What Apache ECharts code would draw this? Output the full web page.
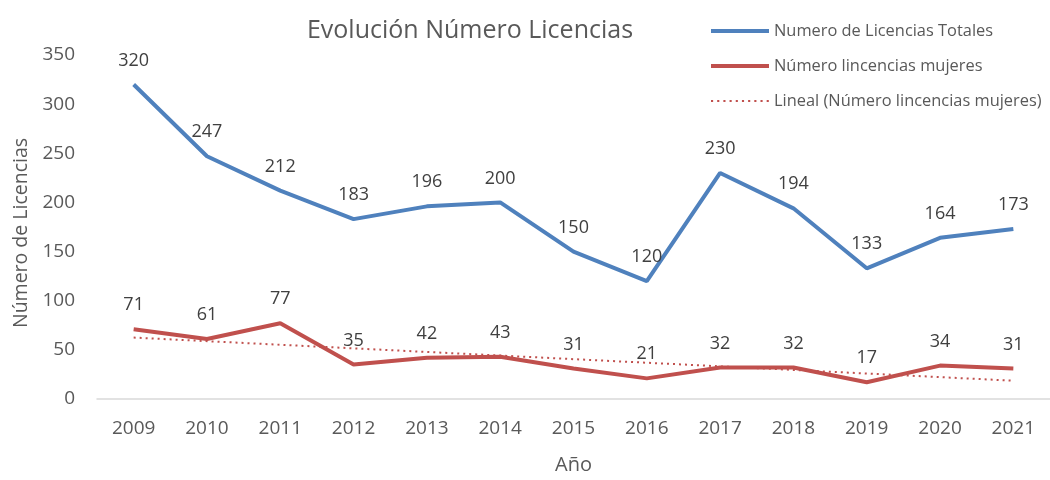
<!DOCTYPE html>
<html><head><meta charset="utf-8">
<script src="https://cdn.jsdelivr.net/npm/echarts@6/dist/echarts.min.js"></script>
<style>html,body{margin:0;padding:0;background:#fff}#c{width:1050px;height:480px}</style>
</head><body><div id="c"></div>
<script>
const years = ['2009','2010','2011','2012','2013','2014','2015','2016','2017','2018','2019','2020','2021'];
const totales = [320,247,212,183,196,200,150,120,230,194,133,164,173];
const mujeres = [71,61,77,35,42,43,31,21,32,32,17,34,31];
// linear trend endpoints (first and last year)
const tendencia = [[0,62.5],[12,18.6]];
const yTicks = {min:0, max:350, interval:50};

const FONT = '"Open Sans", sans-serif';
const chart = echarts.init(document.getElementById('c'), null, {renderer:'canvas'});
const lbl = {show:true, position:'top', distance:15, color:'#404040', fontSize:18, fontFamily:FONT};
const solidIcon = 'path://M0,6L60,6L60,10L0,10Z';
let dots = '';
for (let i = 0; i < 10; i++) { const x = i * 6.4; dots += 'M' + x + ',7L' + (x + 2.2) + ',7L' + (x + 2.2) + ',9L' + x + ',9Z'; }
const dottedIcon = 'path://M0,0L0.01,0L0.01,0.01Z' + dots + 'M60,16L60.01,16L60.01,15.99Z';
chart.setOption({
  animation:false,
  title:{text:'Evolución Número Licencias', left:465, top:13, textAlign:'center',
    textStyle:{fontSize:25, fontWeight:'normal', color:'#595959', fontFamily:FONT}},
  legend:{orient:'vertical', left:706, top:18, itemGap:19, itemWidth:58, itemHeight:16,
    textStyle:{fontSize:16.4, color:'#595959', fontFamily:FONT},
    data:[{name:'Numero de Licencias Totales', icon:solidIcon},
          {name:'Número lincencias mujeres', icon:solidIcon},
          {name:'Lineal (Número lincencias mujeres)', icon:dottedIcon}]},
  grid:{left:97, right:-6, top:55, height:351, containLabel:false},
  xAxis:{type:'category', data:years, boundaryGap:true,
    name:'Año', nameLocation:'middle', nameGap:56,
    nameTextStyle:{fontSize:20, color:'#595959', fontFamily:FONT},
    axisLine:{lineStyle:{color:'#d9d9d9', width:1.5}}, axisTick:{show:false},
    axisLabel:{fontSize:19, color:'#595959', margin:20, fontFamily:FONT}},
  yAxis:{type:'value', min:yTicks.min, max:yTicks.max, interval:yTicks.interval,
    name:'Número de Licencias', nameLocation:'middle', nameGap:66, nameRotate:90,
    nameTextStyle:{fontSize:19.5, color:'#595959', fontFamily:FONT, padding:[0,12,0,0]},
    axisLine:{show:false}, axisTick:{show:false}, splitLine:{show:false},
    axisLabel:{fontSize:19, color:'#595959', margin:22, fontFamily:FONT}},
  series:[
    {name:'Numero de Licencias Totales', type:'line', data:totales, symbol:'circle', symbolSize:0,
      lineStyle:{width:4, color:'#4f81bd'}, itemStyle:{color:'#4f81bd'}, label:lbl, z:3},
    {name:'Número lincencias mujeres', type:'line', data:mujeres, symbol:'circle', symbolSize:0,
      lineStyle:{width:4, color:'#c0504d'}, itemStyle:{color:'#c0504d'}, label:lbl, z:3},
    {name:'Lineal (Número lincencias mujeres)', type:'line', data:tendencia, symbol:'none',
      lineStyle:{width:2, color:'#c0504d', type:[2,4]}, itemStyle:{color:'#c0504d'}, z:2}
  ]
});
</script></body></html>
